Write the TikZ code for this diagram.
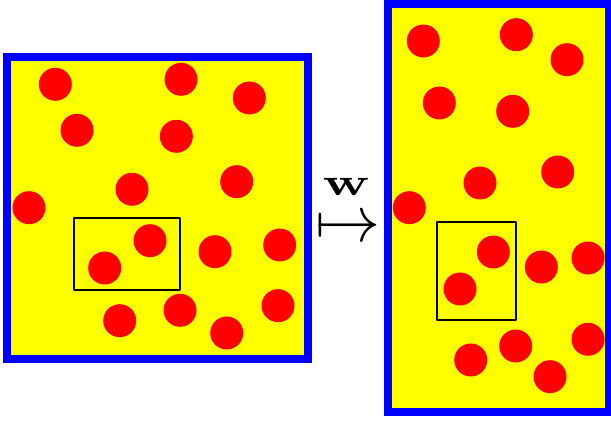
\documentclass[tikz,border=0pt]{standalone}
\usepackage{amsmath,amssymb}
\usepackage{xcolor}
\usepackage{graphicx}
\usepackage{tikz}
\definecolor{stYellow}{HTML}{FFFF00}
\definecolor{stRed}{HTML}{FF0000}
\definecolor{stBlue}{HTML}{0000FF}
\tikzset{
  st sample/.style={draw=stBlue, fill=stYellow, line width=0.16cm},
  st particle/.style={fill=stRed},
  st window/.style={draw=black, line width=0.04cm, line join=round},
  st map/.style={inner sep=0pt, outer sep=0pt, anchor=base}
}

\begin{document}
\begin{tikzpicture}
\useasboundingbox (0,0) rectangle (12.22,8.44);
% original sample
\draw[st sample] (0.14,1.26) rectangle (6.16,7.30);
\foreach \x/\y in {1.106/6.754, 3.62/6.854, 4.986/6.48, 1.54/5.834,
  3.526/5.714, 2.64/4.654, 4.734/4.806, 0.58/4.286, 3.0/3.626,
  2.094/3.08, 4.3/3.406, 5.594/3.54, 2.394/2.026, 3.6/2.234,
  4.534/1.78, 5.56/2.326}
  \fill[st particle] (\x,\y) circle (0.33);
\draw[st window] (1.48,2.64) rectangle (3.6,4.074);
% deformed sample
\draw[st sample] (7.75,0.206) rectangle (12.17,8.36);
\foreach \x/\y in {8.466/7.62, 10.326/7.746, 11.34/7.246, 8.786/6.38,
  10.254/6.214, 9.6/4.78, 11.154/5.0, 8.186/4.286, 9.866/3.4,
  9.2/2.66, 10.826/3.1, 11.76/3.28, 9.414/1.24, 10.314/1.52,
  11.0/0.906, 11.76/1.654}
  \fill[st particle] (\x,\y) circle (0.33);
\draw[st window] (8.746,2.04) rectangle (10.314,4.006);
% the map
\node[st map] (map) at (6.964,3.615) {\scalebox{3.7}{$\mapsto$}};
\node[st map] (wlabel) at (6.926,4.52) {\scalebox{3.2}[2.2]{$\mathbf{w}$}};
\end{tikzpicture}
\end{document}
